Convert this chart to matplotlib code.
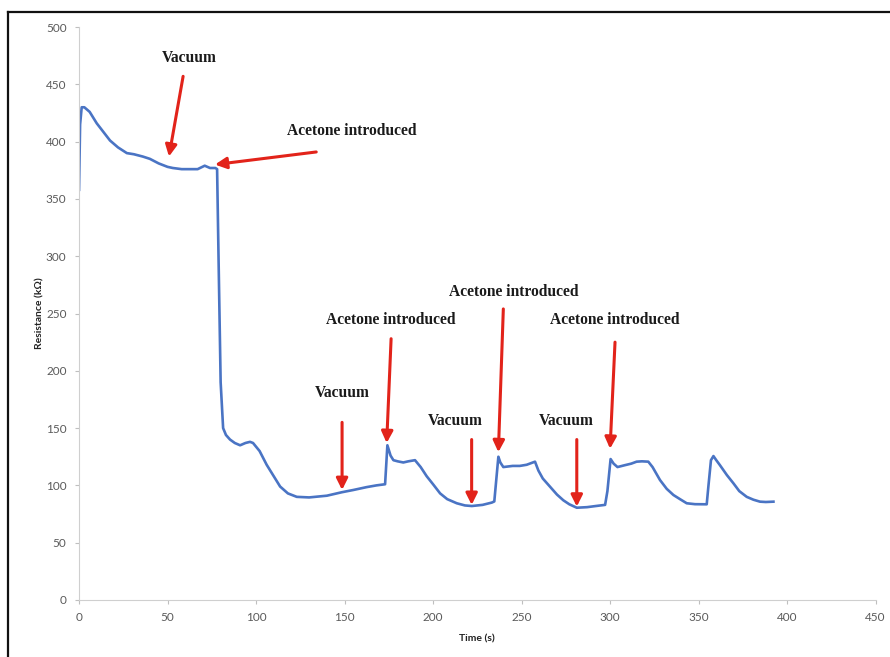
'''
Sensor resistance response to vacuum / acetone cycles.
'''
# pylint: disable=invalid-name
import matplotlib
matplotlib.use('Agg')
import matplotlib.pyplot as plt
from matplotlib.lines import Line2D

# resistance trace read in time order
time_s = [0, 0.6, 1.5, 3, 6, 10, 14, 17.5, 22, 27, 31, 36, 40, 45, 50, 53,
          58, 63, 67, 71, 74, 77, 78, 78.8, 80, 81.4, 83, 85.3, 88, 91,
          94, 96.6, 98.3, 102, 106, 110, 113.6, 118, 123, 130, 140, 148.4,
          155, 162.5, 168, 172.9, 174.2, 176, 177.6, 180, 183.2, 186, 189.8,
          193, 196.4, 200, 204, 208, 213.4, 218, 221.9, 228, 233.2, 234.6,
          236.9, 238, 239.7, 245, 249, 252.9, 257.6, 259.5, 262, 266, 270,
          273.6, 277, 281.2, 287, 292, 297.2, 298.5, 300.3, 302, 304.2, 308,
          312, 315, 318, 321.6, 324, 328.2, 332, 335.8, 339.5, 343.3, 348,
          354.6, 355.6, 357, 358.4, 360, 362, 366, 369.7, 373, 377.2, 381,
          384.7, 388, 392.3]
resistance = [358, 415, 430, 430, 426, 416, 408, 401, 395, 390, 389, 387,
              385, 381, 378, 377, 376, 376, 376, 379, 377, 377, 376, 300,
              190, 150, 144, 140, 137, 135, 137, 138, 137, 130, 118, 108,
              99, 93, 90, 89.5, 91, 94, 96, 98.5, 100, 101, 135, 126, 122,
              121, 120, 121, 122, 116, 108, 101, 93, 88, 84.4, 82.5, 82, 83,
              85, 86, 125, 120, 116, 117, 117, 118, 120.7, 113, 106, 99, 92,
              87, 83.5, 80.5, 81, 82, 83, 95, 123, 119, 116, 117.5, 119,
              120.7, 121, 120.7, 116, 104.7, 97, 91.6, 88, 84.4, 83.6, 83.5,
              100, 122, 125.6, 122, 117.8, 109, 101.8, 95, 90, 87.5, 85.8,
              85.5, 85.8]

# event labels: (text, text pos, arrow tail, arrow tip) in data units
events = [
    ('Vacuum', (62, 473), (58.8, 457), (50.8, 387)),
    ('Acetone introduced', (154, 409), (134, 391), (76.8, 380)),
    ('Vacuum', (148.6, 181), (148.6, 155), (148.6, 96)),
    ('Acetone introduced', (176.3, 244), (176.3, 228), (173.8, 137)),
    ('Vacuum', (212.8, 156), (221.8, 140), (221.8, 83)),
    ('Acetone introduced', (245.4, 269), (239.7, 254), (236.9, 129)),
    ('Vacuum', (275, 156), (281.2, 140), (281.2, 81.5)),
    ('Acetone introduced', (302.8, 244), (302.8, 225), (300, 132)),
]

x_ticks = list(range(0, 451, 50))
y_ticks = list(range(0, 501, 50))

LINE_BLUE = '#4a74c4'
ARROW_RED = '#e2231a'
TICK_GREY = '#5a5a5a'

fig = plt.figure(figsize=(8.9, 6.57), dpi=100)
ax = fig.add_axes([0.0888, 0.0868, 0.895, 0.872])

ax.plot(time_s, resistance, color=LINE_BLUE, lw=1.9, solid_joinstyle='round')

for text, txt_xy, tail, tip in events:
    ax.text(txt_xy[0], txt_xy[1], text, ha='center', va='center',
            family='Liberation Serif', fontweight='bold', fontsize=11.2,
            color='#1a1a1a')
    ax.annotate('', xy=tip, xytext=tail,
                arrowprops=dict(arrowstyle='-|>', color=ARROW_RED, lw=2.2,
                                mutation_scale=17, shrinkA=0, shrinkB=0))

ax.set_xlim(0, 450)
ax.set_ylim(0, 500)
ax.set_xticks(x_ticks)
ax.set_yticks(y_ticks)
ax.tick_params(axis='both', colors='#bfbfbf', labelcolor=TICK_GREY,
               labelsize=8.5, length=3, width=0.8, direction='out')
for lbl in ax.get_xticklabels() + ax.get_yticklabels():
    lbl.set_family('Lato')
ax.tick_params(axis='x', pad=6)
ax.tick_params(axis='y', pad=6)

for side in ('top', 'right'):
    ax.spines[side].set_visible(False)
for side in ('left', 'bottom'):
    ax.spines[side].set_color('#cfcfcf')
    ax.spines[side].set_linewidth(0.8)

ax.set_xlabel('Time (s)', family='Lato', fontweight='bold', fontsize=7.5,
              color='#222222', labelpad=8)
ax.set_ylabel('Resistance (kΩ)', family='Lato', fontweight='bold',
              fontsize=7.5, color='#222222', labelpad=1)

# frame around the figure (left and top edges)
fig.add_artist(Line2D([0.0095, 0.0095], [0.0, 0.982], color='#111111',
                      lw=1.6, transform=fig.transFigure))
fig.add_artist(Line2D([0.0095, 1.0], [0.982, 0.982], color='#111111',
                      lw=1.6, transform=fig.transFigure))

fig.savefig('out.png', dpi=100, facecolor='white')
